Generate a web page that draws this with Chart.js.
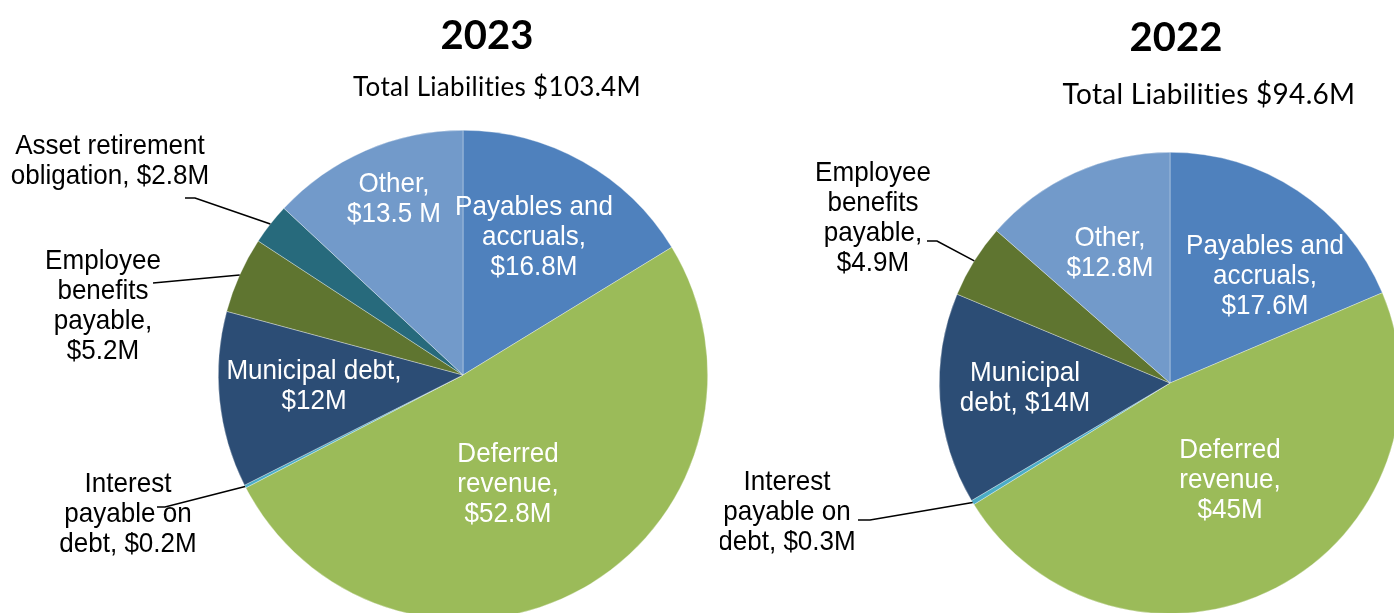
<!DOCTYPE html>
<html>
<head>
<meta charset="utf-8">
<script src="https://cdn.jsdelivr.net/npm/chart.js@4.4.1/dist/chart.umd.min.js"></script>
<style>
  html, body { margin: 0; padding: 0; background: #fff; overflow: hidden; }
  #wrap { position: relative; width: 1394px; height: 613px; overflow: hidden; }
  .box { position: absolute; top: 0; height: 640px; }
  #box2023 { left: 0; width: 720px; }
  #box2022 { left: 720px; width: 700px; }
</style>
</head>
<body>
<div id="wrap">
  <div class="box" id="box2023"><canvas id="pie2023"></canvas></div>
  <div class="box" id="box2022"><canvas id="pie2022"></canvas></div>
</div>
<script>
// liabilities by category, $M
const categories2023 = ['Payables and accruals', 'Deferred revenue', 'Interest payable on debt',
  'Municipal debt', 'Employee benefits payable', 'Asset retirement obligation', 'Other'];
const values2023 = [16.8, 52.8, 0.2, 12, 5.2, 2.8, 13.5];
const labels2023 = [
  ['Payables and', 'accruals,', '$16.8M'],
  ['Deferred', 'revenue,', '$52.8M'],
  ['Interest', 'payable on', 'debt, $0.2M'],
  ['Municipal debt,', '$12M'],
  ['Employee', 'benefits', 'payable,', '$5.2M'],
  ['Asset retirement', 'obligation, $2.8M'],
  ['Other,', '$13.5 M']
];

const categories2022 = ['Payables and accruals', 'Deferred revenue', 'Interest payable on debt',
  'Municipal debt', 'Employee benefits payable', 'Other'];
const values2022 = [17.6, 45, 0.3, 14, 4.9, 12.8];
const labels2022 = [
  ['Payables and', 'accruals,', '$17.6M'],
  ['Deferred', 'revenue,', '$45M'],
  ['Interest', 'payable on', 'debt, $0.3M'],
  ['Municipal', 'debt, $14M'],
  ['Employee', 'benefits', 'payable,', '$4.9M'],
  ['Other,', '$12.8M']
];

const colorOf = {
  'Payables and accruals': '#4F81BD',
  'Deferred revenue': '#9BBB59',
  'Interest payable on debt': '#4BACC6',
  'Municipal debt': '#2C4D75',
  'Employee benefits payable': '#5F7530',
  'Asset retirement obligation': '#276A7C',
  'Other': '#729ACA'
};

// label block centre as offset from the pie centre; outside labels get a leader
// line from `from` (via optional `elbow`) to the middle of the slice rim
const place2023 = [
  { dx: 71, dy: -138 },
  { dx: 45, dy: 109 },
  { dx: -335, dy: 139, dark: true, from: [-306, 132], elbow: [-298, 132] },
  { dx: -149, dy: 11 },
  { dx: -360, dy: -69, dark: true, from: [-310, -92] },
  { dx: -353, dy: -214, dark: true, from: [-278, -177], elbow: [-268, -177] },
  { dx: -69, dy: -176 }
];
const place2022 = [
  { dx: 95, dy: -107 },
  { dx: 60, dy: 97 },
  { dx: -383, dy: 129, dark: true, from: [-312, 137], elbow: [-300, 137] },
  { dx: -145, dy: 5 },
  { dx: -297, dy: -165, dark: true, from: [-243, -142], elbow: [-233, -142] },
  { dx: -60, dy: -130 }
];

const LABEL_FONT = '28px "Liberation Sans", Arial, sans-serif';
const LABEL_SQUEEZE = 0.93;
const LINE_H = 30;

function drawLines(ctx, lines, cx, cy, color) {
  ctx.fillStyle = color;
  ctx.font = LABEL_FONT;
  ctx.textAlign = 'center';
  ctx.textBaseline = 'middle';
  const top = cy - (lines.length - 1) * LINE_H / 2;
  lines.forEach((t, i) => {
    ctx.save();
    ctx.translate(cx, top + i * LINE_H);
    ctx.scale(LABEL_SQUEEZE, 1);
    ctx.fillText(t, 0, 0);
    ctx.restore();
  });
}

const pieText = {
  id: 'pieText',
  afterDraw(chart, args, opts) {
    const ctx = chart.ctx;
    const arcs = chart.getDatasetMeta(0).data;
    const cx = arcs[0].x, cy = arcs[0].y;

    ctx.save();
    ctx.fillStyle = '#000';
    ctx.textAlign = 'center';
    ctx.textBaseline = 'middle';
    ctx.font = 'bold 40px Lato, "Open Sans", sans-serif';
    ctx.fillText(opts.title, opts.titleX, opts.titleY);
    ctx.font = opts.subSize + 'px Lato, "Open Sans", sans-serif';
    // a touch of spacing keeps Lato from joining "ti"
    ctx.letterSpacing = '0.3px';
    ctx.fillText(opts.subtitle, opts.subX, opts.subY);
    ctx.letterSpacing = '0px';

    opts.place.forEach((p, i) => {
      if (p.from) {
        const a = arcs[i];
        const mid = (a.startAngle + a.endAngle) / 2;
        const ex = a.x + Math.cos(mid) * a.outerRadius;
        const ey = a.y + Math.sin(mid) * a.outerRadius;
        ctx.beginPath();
        ctx.moveTo(cx + p.from[0], cy + p.from[1]);
        if (p.elbow) ctx.lineTo(cx + p.elbow[0], cy + p.elbow[1]);
        ctx.lineTo(ex, ey);
        ctx.strokeStyle = '#000';
        ctx.lineWidth = 1.6;
        ctx.stroke();
      }
      drawLines(ctx, opts.text[i], cx + p.dx, cy + p.dy, p.dark ? '#000' : '#fff');
    });
    ctx.restore();
  }
};

function makePie(id, cats, vals, text, place, padding, titles) {
  return new Chart(document.getElementById(id), {
    type: 'pie',
    data: {
      labels: cats,
      datasets: [{
        data: vals,
        backgroundColor: cats.map(c => colorOf[c]),
        borderColor: 'rgba(255,255,255,0.55)',
        borderWidth: 0.6
      }]
    },
    options: {
      responsive: true,
      maintainAspectRatio: false,
      animation: false,
      layout: { padding: padding },
      plugins: {
        legend: { display: false },
        tooltip: { enabled: false },
        pieText: Object.assign({ text: text, place: place }, titles)
      }
    },
    plugins: [pieText]
  });
}

makePie('pie2023', categories2023, values2023, labels2023, place2023,
  { left: 218, top: 130, right: 12, bottom: 20 },
  { title: '2023', titleX: 487, titleY: 36, subtitle: 'Total Liabilities $103.4M', subSize: 26, subX: 497, subY: 88 });

makePie('pie2022', categories2022, values2022, labels2022, place2022,
  { left: 219, top: 152, right: 19, bottom: 26 },
  { title: '2022', titleX: 456, titleY: 38, subtitle: 'Total Liabilities $94.6M', subSize: 28, subX: 489, subY: 95 });
</script>
</body>
</html>
